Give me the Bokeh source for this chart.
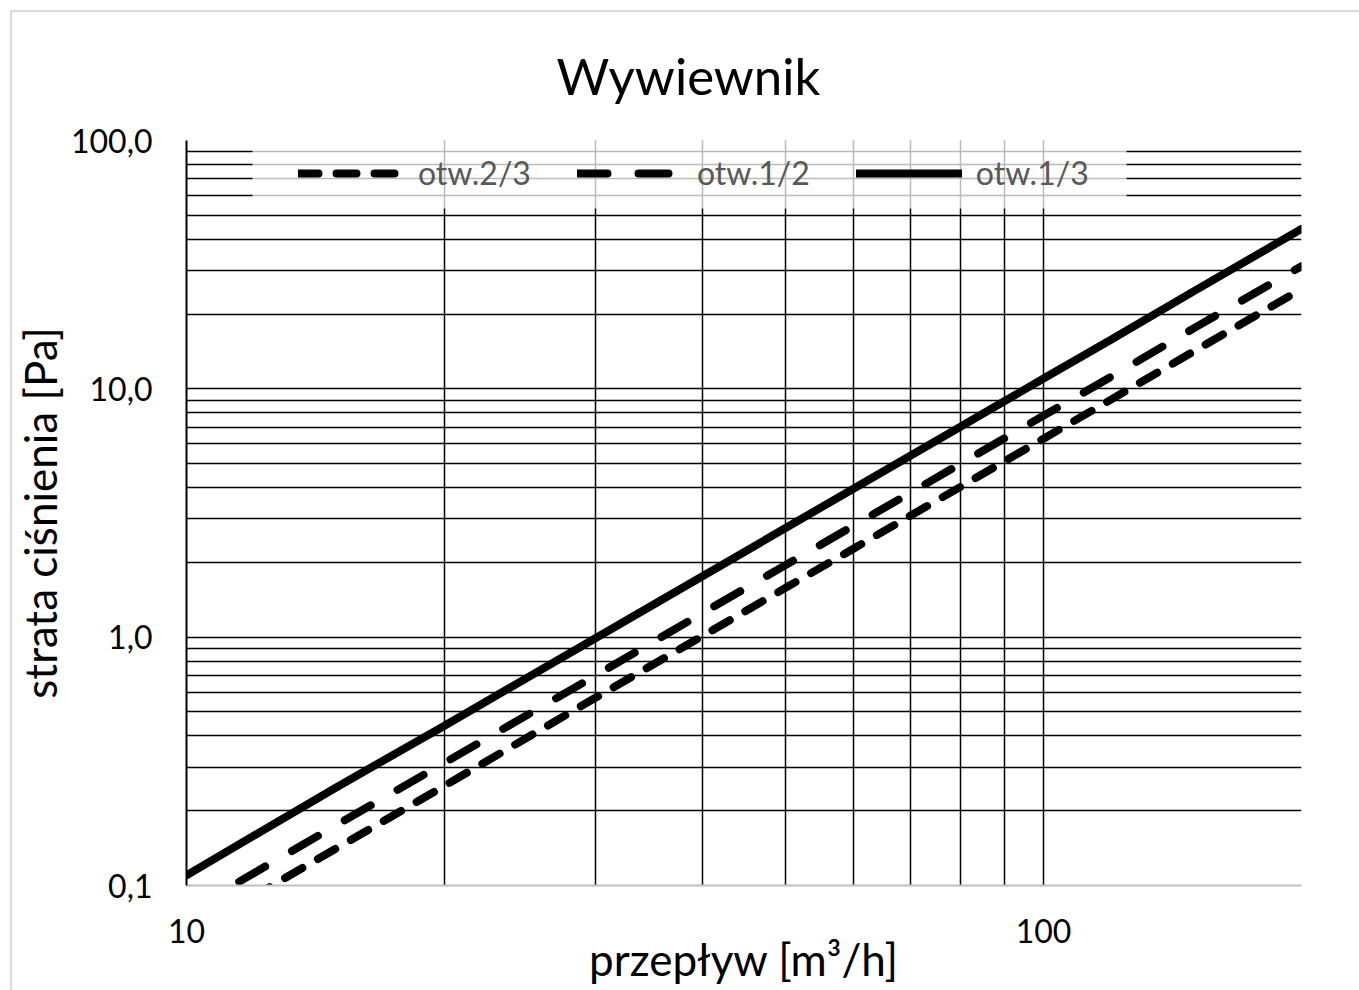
from bokeh.plotting import figure
from bokeh.models import Range1d, FixedTicker, CustomJSTickFormatter, Legend, LegendItem, BoxAnnotation
from bokeh.embed import file_html
from bokeh.resources import INLINE

# ---- data ----
flow = [10, 15, 20, 30, 40, 50, 60, 70, 80, 90, 100, 120, 150, 200]
otw_2_3 = [0.063, 0.142, 0.252, 0.57, 1.01, 1.58, 2.27, 3.09, 4.03, 5.1, 6.3, 9.07, 14.2, 25.2]
otw_1_2 = [0.078, 0.176, 0.312, 0.70, 1.25, 1.95, 2.81, 3.82, 4.99, 6.32, 7.8, 11.2, 17.6, 31.2]
otw_1_3 = [0.11, 0.25, 0.44, 0.99, 1.76, 2.75, 3.96, 5.39, 7.04, 8.91, 11.0, 15.8, 24.8, 44.0]
labels = ["otw.2/3", "otw.1/2", "otw.1/3"]

x_major = [10, 100]
y_major = [0.1, 1, 10, 100]
x_grid = [20, 30, 40, 50, 60, 70, 80, 90, 100, 200]
y_grid = [m * d for d in (0.1, 1, 10) for m in range(2, 11)]

FONT = "Lato"

p = figure(width=1359, height=990, x_axis_type="log", y_axis_type="log",
           x_range=Range1d(10, 200), y_range=Range1d(0.1, 100),
           output_backend="svg", toolbar_location=None,
           min_border_left=186, min_border_right=58,
           min_border_top=140, min_border_bottom=105)
p.border_fill_color = None
p.background_fill_color = "white"
p.outline_line_color = None
p.styles = {"box-shadow": "inset 10px 10px 0 0 #ffffff, inset 12px 12px 0 0 #d9d9d9"}

p.title.text = "Wywiewnik"
p.title.text_font = FONT
p.title.text_font_size = "51px"
p.title.text_font_style = "normal"
p.title.text_color = "black"
p.title.align = "left"
p.title.offset = 370
p.title.standoff = 70

# axes
for ax in (p.xaxis[0], p.yaxis[0]):
    ax.major_tick_line_color = None
    ax.minor_tick_line_color = None
    ax.major_label_text_font = FONT
    ax.major_label_text_font_size = "32px"
    ax.major_label_text_color = "black"
    ax.axis_label_text_font = FONT
    ax.axis_label_text_font_size = "44px"
    ax.axis_label_text_font_style = "normal"
    ax.axis_label_text_color = "black"

p.xaxis.ticker = FixedTicker(ticks=x_major, minor_ticks=[])
p.yaxis.ticker = FixedTicker(ticks=y_major, minor_ticks=[])
p.xaxis.formatter = CustomJSTickFormatter(code="return tick.toFixed(0);")
p.yaxis.formatter = CustomJSTickFormatter(code="return tick.toFixed(1).replace('.', ',');")
p.xaxis.axis_label = "przepływ [m³/h]"
p.yaxis.axis_label = "strata ciśnienia [Pa]"
p.xaxis.axis_line_color = "#bfbfbf"
p.xaxis.axis_line_width = 2
p.yaxis.axis_line_color = "black"
p.yaxis.axis_line_width = 2
p.xaxis.major_label_standoff = 27
p.xaxis.axis_label_standoff = -13
p.yaxis.major_label_standoff = 28
p.yaxis.axis_label_standoff = 2

# grids
p.xgrid.ticker = FixedTicker(ticks=x_grid, minor_ticks=[])
p.ygrid.ticker = FixedTicker(ticks=y_grid, minor_ticks=[])
for g in (p.xgrid[0], p.ygrid[0]):
    g.grid_line_color = "black"
    g.grid_line_width = 1.5

# series
r23 = p.line(flow, otw_2_3, line_color="black", line_width=8, line_cap="round", line_dash="20 18")
r12 = p.line(flow, otw_1_2, line_color="black", line_width=8, line_cap="round", line_dash="30 31")
r13 = p.line(flow, otw_1_3, line_color="black", line_width=8, line_cap="round")

# legend background (semi-transparent white box at top of plot area)
p.add_layout(BoxAnnotation(left=11.94, right=125, top=100, bottom=53.2,
                           fill_color="white", fill_alpha=0.73, line_color=None))

legend = Legend(items=[LegendItem(label=labels[0], renderers=[r23]),
                       LegendItem(label=labels[1], renderers=[r12]),
                       LegendItem(label=labels[2], renderers=[r13])],
                orientation="horizontal", location=(112, 693), margin=0,
                padding=15, spacing=46, glyph_width=106, glyph_height=38,
                label_height=38, label_standoff=14,
                label_text_font=FONT, label_text_font_size="32px",
                label_text_color="#595959",
                background_fill_alpha=0, border_line_color=None)
p.add_layout(legend, "center")

open("out.html", "w").write(file_html(p, INLINE))
